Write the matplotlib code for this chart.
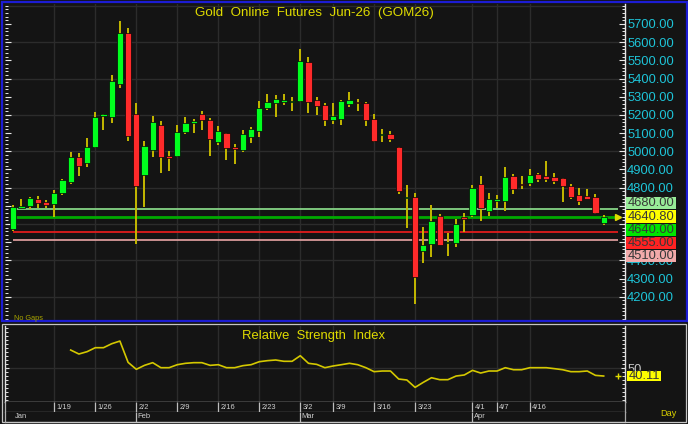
import matplotlib
matplotlib.use("Agg")
import matplotlib.pyplot as plt
from matplotlib.patches import Rectangle
from matplotlib.ticker import FixedLocator, MultipleLocator, FuncFormatter, NullFormatter
from matplotlib.transforms import blended_transform_factory, offset_copy

plt.rcParams['font.family'] = ['Liberation Sans', 'DejaVu Sans']

W, H = 688, 424
BG = '#141414'

title = "Gold  Online  Futures  Jun-26  (GOM26)"
rsi_title = "Relative  Strength  Index"

opens = [4574, 4688, 4697, 4737, 4721, 4712, 4769, 4833, 4967, 4934,
         5023, 5192, 5190, 5370, 5650, 5203, 4869, 5009, 5144, 4974,
         4972, 5104, 5157, 5205, 5170, 5049, 5099, 5023, 5009, 5078,
         5110, 5240, 5265, 5271, 5271, 5276, 5491, 5284, 5253, 5170,
         5176, 5260, 5273, 5264, 5177, 5089, 5093, 5022, 4741, 4747,
         4453, 4488, 4644, 4494, 4494, 4637, 4649, 4818, 4673, 4728,
         4728, 4866, 4822, 4824, 4877, 4862, 4857, 4853, 4807, 4758,
         4752, 4750, 4607]
highs = [4704, 4737, 4748, 4752, 4732, 4785, 4846, 4994, 4990, 5071,
         5214, 5207, 5419, 5716, 5676, 5264, 5058, 5194, 5166, 5003,
         5144, 5190, 5179, 5221, 5183, 5137, 5102, 5040, 5115, 5132,
         5275, 5315, 5310, 5315, 5300, 5561, 5517, 5298, 5264, 5264,
         5280, 5324, 5286, 5271, 5205, 5124, 5113, 5025, 4816, 4769,
         4585, 4703, 4655, 4552, 4626, 4662, 4813, 4864, 4769, 4761,
         4912, 4875, 4866, 4901, 4882, 4948, 4882, 4853, 4818, 4798,
         4791, 4763, 4651]
lows = [4561, 4681, 4682, 4686, 4686, 4640, 4759, 4818, 4862, 4913,
        5018, 5119, 5155, 5346, 5058, 4492, 4695, 4970, 4883, 4893,
        4966, 5093, 5099, 5119, 4972, 5033, 4954, 4932, 4998, 5047,
        5078, 5229, 5190, 5256, 5220, 5273, 5209, 5201, 5137, 5150,
        5144, 5242, 5220, 5141, 5049, 5049, 5053, 4763, 4576, 4162,
        4387, 4417, 4483, 4426, 4475, 4556, 4640, 4618, 4642, 4688,
        4671, 4763, 4792, 4811, 4829, 4833, 4822, 4723, 4739, 4703,
        4736, 4653, 4596]
closes = [4693, 4701, 4741, 4717, 4706, 4770, 4842, 4967, 4921, 5022,
          5188, 5203, 5385, 5650, 5086, 4809, 5027, 5163, 4969, 4963,
          5108, 5154, 5165, 5170, 5069, 5110, 5020, 5011, 5093, 5124,
          5238, 5269, 5287, 5284, 5276, 5496, 5272, 5251, 5170, 5194,
          5275, 5280, 5265, 5170, 5058, 5097, 5067, 4780, 4748, 4307,
          4483, 4615, 4486, 4501, 4600, 4627, 4798, 4688, 4736, 4736,
          4857, 4794, 4814, 4871, 4849, 4847, 4838, 4809, 4748, 4728,
          4739, 4659, 4640.8]

rsi_start = 7
rsi_values = [72.2, 67.3, 70.2, 75.1, 75.1, 80.0, 83.3, 57.0, 48.4, 53.3,
              56.6, 50.4, 50.4, 54.1, 55.8, 56.6, 56.6, 53.3, 54.1, 50.4,
              50.4, 52.9, 54.1, 57.8, 59.1, 59.9, 58.3, 58.3, 65.2, 55.8,
              54.5, 50.4, 52.5, 54.1, 55.8, 54.1, 50.4, 45.5, 46.3, 46.3,
              36.4, 35.2, 26.1, 32.3, 38.0, 35.6, 35.6, 40.1, 41.4, 47.1,
              43.8, 46.3, 46.3, 50.4, 47.9, 47.9, 50.4, 50.4, 50.4, 49.2,
              47.9, 45.5, 45.5, 46.3, 40.9, 40.11]

week_idx = [5, 10, 15, 20, 25, 30, 35, 39, 44, 49, 56, 59, 63]
week_labels = ["1/19", "1/26", "2/2", "2/9", "2/16", "2/23", "3/2", "3/9",
               "3/16", "3/23", "4/1", "4/7", "4/16"]
month_idx = [0, 15, 35, 56]
month_labels = ["Jan", "Feb", "Mar", "Apr"]

levels = [4680.00, 4640.80, 4640.00, 4555.00, 4510.00]
level_box_colors = ['#98ec98', '#ffff00', '#00e400', '#ff2222', '#f2aaaa']
level_line_colors = ['#86d486', None, '#00aa00', '#e01c1c', '#d89a9a']
level_line_widths = [1.3, 0, 2.0, 1.3, 1.3]
last_price = 4640.80
last_rsi = 40.11

price_ticks = list(range(4200, 5701, 100))
price_grid = list(range(4200, 5801, 200))

GREEN = '#00ff1e'
RED = '#ff2a2a'
WICK = '#c4b800'
GRID = '#2c2c2c'
CYAN = '#1ec4d8'
YEL = '#e0dc00'

fig = plt.figure(figsize=(W / 100, H / 100), dpi=100, facecolor=BG)


def fax(left, top, right, bottom):
    a = fig.add_axes([left / W, 1 - bottom / H, (right - left) / W, (bottom - top) / H])
    a.set_facecolor(BG)
    return a


n = len(closes)
idx = list(range(n))
XL = (-1.012, 74.6)
YL = (4072, 5810)

# ---------------- main price panel ----------------
ax = fax(5, 4, 625, 320)
ax.set_xlim(*XL)
ax.set_ylim(*YL)

for g in price_grid:
    ax.axhline(g, color=GRID, lw=1.0, zorder=0)
for w in week_idx:
    ax.axvline(w, color=GRID, lw=1.0, zorder=0)

ax.vlines(idx, lows, highs, colors=WICK, lw=1.4, zorder=2)
minh = 8.0
bottoms, heights, cols = [], [], []
for o, c in zip(opens, closes):
    lo, hi = min(o, c), max(o, c)
    d = hi - lo
    if d < minh:
        lo -= (minh - d) / 2
        d = minh
    bottoms.append(lo)
    heights.append(d)
    cols.append(GREEN if c >= o else RED)
ax.bar(idx, heights, bottom=bottoms, width=0.76, color=cols,
       edgecolor='#050505', linewidth=0.5, zorder=3)

# level lines
for lv, lc, lw in zip(levels, level_line_colors, level_line_widths):
    if lc is not None:
        ax.hlines(lv, 0, n + 0.7, colors=lc, lw=lw, zorder=1.5)
ax.plot([n + 0.7], [last_price], marker='>', color=YEL, ms=4, zorder=4, clip_on=False)

# stacked level boxes on the right (positions)
px_per_unit = 316 / (YL[1] - YL[0])
step = 13.2 / px_per_unit
box_h = 12.2 / px_per_unit
anchor = levels.index(last_price)
pos = [0.0] * len(levels)
pos[anchor] = last_price
for k in range(anchor - 1, -1, -1):
    pos[k] = max(levels[k], pos[k + 1] + step)
for k in range(anchor + 1, len(levels)):
    pos[k] = min(levels[k], pos[k - 1] - step)
col_top = max(pos) + box_h / 2
col_bot = min(pos) - box_h / 2
half_lab = 4.6 / px_per_unit


def price_fmt(v, p):
    if v + half_lab <= col_top and v - half_lab >= col_bot:
        return ""
    return f"{v:.2f}"


# axis styling
for s in ['top', 'bottom', 'left']:
    ax.spines[s].set_visible(False)
ax.spines['right'].set_color('#e8e8e8')
ax.spines['right'].set_linewidth(1.0)
ax.yaxis.set_major_locator(FixedLocator(price_ticks))
ax.yaxis.set_minor_locator(MultipleLocator(20))
ax.yaxis.set_major_formatter(FuncFormatter(price_fmt))
ax.yaxis.set_minor_formatter(NullFormatter())
ax.tick_params(axis='y', which='both', direction='in', colors='#e8e8e8',
               left=True, right=True, labelleft=False, labelright=True)
ax.tick_params(axis='y', which='major', length=4.5, width=0.8, pad=1.5,
               labelsize=9.3, labelcolor=CYAN)
ax.tick_params(axis='y', which='minor', length=2.2, width=0.7)
ax.tick_params(axis='x', bottom=False, labelbottom=False)

bt = blended_transform_factory(ax.transAxes, ax.transData)
bx0 = (626 - 5) / 620
bw = 50 / 620
for lv, p, bc in zip(levels, pos, level_box_colors):
    ax.add_patch(Rectangle((bx0, p - box_h / 2), bw, box_h, transform=bt,
                           facecolor=bc, edgecolor='none', clip_on=False, zorder=6))
    ax.text(bx0 + 2 / 620, p, f"{lv:.2f}", transform=bt, ha='left', va='center',
            fontsize=9.3, color='#383838', zorder=7, clip_on=False)

fig.text(314 / W, 1 - 15.7 / H, title, ha='center', va='baseline',
         fontsize=9.6, color=YEL)
fig.text(14 / W, 1 - 319.5 / H, "No Gaps", ha='left', va='baseline',
         fontsize=5.3, color='#a8a400')

# ---------------- RSI panel ----------------
ar = fax(5, 326, 625, 401.7)
ar.set_xlim(*XL)
ar.set_ylim(8.4, 101.9)
ar.axhline(50, color=GRID, lw=1.0, zorder=0)
for w in week_idx:
    ar.axvline(w, color=GRID, lw=1.0, zorder=0)
rsi_x = list(range(rsi_start, rsi_start + len(rsi_values)))
ar.plot(rsi_x, rsi_values, color='#d4c800', lw=1.2, zorder=3)
ar.plot([n + 0.7], [last_rsi], marker='+', color=YEL, ms=4, mew=1.0,
        zorder=4, clip_on=False)
ar.spines['top'].set_visible(False)
for s in ['left', 'right', 'bottom']:
    ar.spines[s].set_color('#e0e0e0')
    ar.spines[s].set_linewidth(1.0)
ar.yaxis.set_major_locator(FixedLocator([50]))
ar.yaxis.set_minor_locator(MultipleLocator(5))
ar.yaxis.set_major_formatter(FuncFormatter(lambda v, p: f"{v:.0f}"))
ar.yaxis.set_minor_formatter(NullFormatter())
ar.tick_params(axis='y', which='both', direction='in', colors='#e0e0e0',
               left=True, right=True, labelleft=False, labelright=True)
ar.tick_params(axis='y', which='major', length=3, width=0.8, pad=1.5,
               labelsize=9.3, labelcolor='#c8c8c8')
ar.tick_params(axis='y', which='minor', length=2.5, width=0.7)
ar.tick_params(axis='x', bottom=False, labelbottom=False)
rpx = 75.7 / (101.9 - 8.4)
rbt = blended_transform_factory(ar.transAxes, ar.transData)
rb_h = 10.6 / rpx
ar.add_patch(Rectangle(((627 - 5) / 620, last_rsi - rb_h / 2), 34 / 620, rb_h,
                       transform=rbt, facecolor='#ffff00', edgecolor='none',
                       clip_on=False, zorder=6))
ar.text((628.5 - 5) / 620, last_rsi, f"{last_rsi:.2f}", transform=rbt,
        ha='left', va='center', fontsize=9.3, color='#383838', zorder=7,
        clip_on=False)
fig.text(314 / W, 1 - 339.5 / H, rsi_title, ha='center', va='baseline',
         fontsize=9.4, color=YEL)

# ---------------- date rows ----------------
ad = fax(5, 401.7, 625, 411.7)
am = fax(5, 411.7, 625, 421.7)
for a in (ad, am):
    a.set_xlim(*XL)
    a.set_ylim(0, 1)
    a.set_xticks([])
    a.set_yticks([])
    for s in ['top', 'left']:
        a.spines[s].set_visible(False)
    for s in ['bottom', 'right']:
        a.spines[s].set_color('#a8a8a8')
        a.spines[s].set_linewidth(0.9)
ad.vlines(week_idx, 0, 1, colors='#bdbdbd', lw=0.9)
am.vlines(month_idx[1:], 0, 1, colors='#bdbdbd', lw=0.9)
tr_d = offset_copy(blended_transform_factory(ad.transData, ad.transAxes), fig=fig,
                   x=2.2, y=0, units='dots')
for w, lab in zip(week_idx, week_labels):
    ad.text(w, 0.45, lab, transform=tr_d, ha='left', va='center',
            fontsize=5.4, color='#cfcfcf')
tr_m = offset_copy(blended_transform_factory(am.transData, am.transAxes), fig=fig,
                   x=1.5, y=0, units='dots')
for m, lab in zip(month_idx, month_labels):
    am.text(m, 0.5, lab, transform=tr_m, ha='left', va='center',
            fontsize=5.4, color='#cfcfcf')
fig.text(668 / W, 1 - 413 / H, "Day", ha='center', va='center',
         fontsize=6.6, color='#d8d000')

# ---------------- frames ----------------
fig.add_artist(Rectangle((1.5 / W, 1 - 321 / H), 685 / W, 319.5 / H,
                         transform=fig.transFigure, fill=False,
                         edgecolor='#1c1cd4', lw=1.6))
fig.add_artist(Rectangle((2 / W, 1 - 422 / H), 684 / W, 98.2 / H,
                         transform=fig.transFigure, fill=False,
                         edgecolor='#c4c4c4', lw=0.9))
fig.add_artist(plt.Line2D([5 / W, 5 / W], [1 - 422 / H, 1 - 401.7 / H],
                          transform=fig.transFigure, color='#b0b0b0', lw=0.9))

fig.savefig("out.png", dpi=100, facecolor=BG)
